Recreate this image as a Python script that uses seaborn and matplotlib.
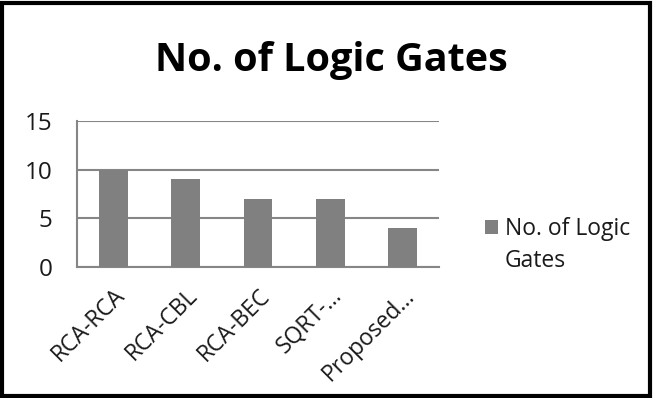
import matplotlib
matplotlib.use("Agg")
import matplotlib.pyplot as plt
import seaborn as sns
import pandas as pd
from matplotlib.patches import Rectangle

categories = ["RCA-RCA", "RCA-CBL", "RCA-BEC", "SQRT-...", "Proposed..."]
values = [10, 9, 7, 7, 4]
series_name = "No. of Logic Gates"
legend_lines = ["No. of Logic", "Gates"]
yticks = [0, 5, 10, 15]

sns.set_theme(style="white")
plt.rcParams['font.family'] = ['Open Sans', 'DejaVu Sans']

df = pd.DataFrame({"cat": categories, "val": values})

fig = plt.figure(figsize=(6.53, 3.98), dpi=100)
ax = fig.add_axes([77/653, 1 - 267/398, (439-77)/653, (267-121)/398])

sns.barplot(data=df, x="cat", y="val", color="#808080", width=0.4,
            saturation=1, ax=ax, label=series_name, zorder=3)
for p in ax.patches:
    p.set_edgecolor("none")

ax.set_ylim(0, 15)
ax.set_xlim(-0.5, len(categories) - 0.5)
ax.set_yticks(yticks)
ax.yaxis.grid(True, color="#868686", linewidth=1.5, zorder=0)
ax.set_xlabel("")
ax.set_ylabel("")
for s in ["top", "right"]:
    ax.spines[s].set_visible(False)
for s in ["left", "bottom"]:
    ax.spines[s].set_color("#868686")
    ax.spines[s].set_linewidth(1.5)
ax.tick_params(axis="y", length=7.5, width=1.5, color="#868686", direction="out",
               labelsize=17.5, pad=10, labelcolor="#1a1a1a")
ax.set_xticks([i + 0.5 for i in range(-1, len(categories))], minor=True)
ax.tick_params(axis="x", which="major", length=0, labelsize=16.5, pad=12, labelcolor="#1a1a1a")
ax.tick_params(axis="x", which="minor", length=5, width=1.5, color="#868686", direction="out")
plt.setp(ax.get_xticklabels(), rotation=45, ha="right", rotation_mode="anchor")

fig.text(331/653, 1 - 61/398, series_name, ha="center", va="center",
         fontsize=28.5, fontweight="bold", color="black")

leg = ax.legend(loc="center left", bbox_to_anchor=(464/653, 1 - 229/398),
                bbox_transform=fig.transFigure, frameon=False, fontsize=16.5,
                handlelength=0.6, handleheight=0.6, handletextpad=0.3)
t = leg.get_texts()[0]
t.set_text(legend_lines[0])
t.set_color("#1a1a1a")
fig.text(505/653, 1 - 267/398, legend_lines[1], ha="left", va="baseline",
         fontsize=16.5, color="#1a1a1a")

fig.patches.append(Rectangle((2/653, 2/398), 1 - 5/653, 1 - 5/398, transform=fig.transFigure,
                             fill=False, edgecolor="black", linewidth=3, zorder=10))

fig.savefig("out.png", dpi=100)
